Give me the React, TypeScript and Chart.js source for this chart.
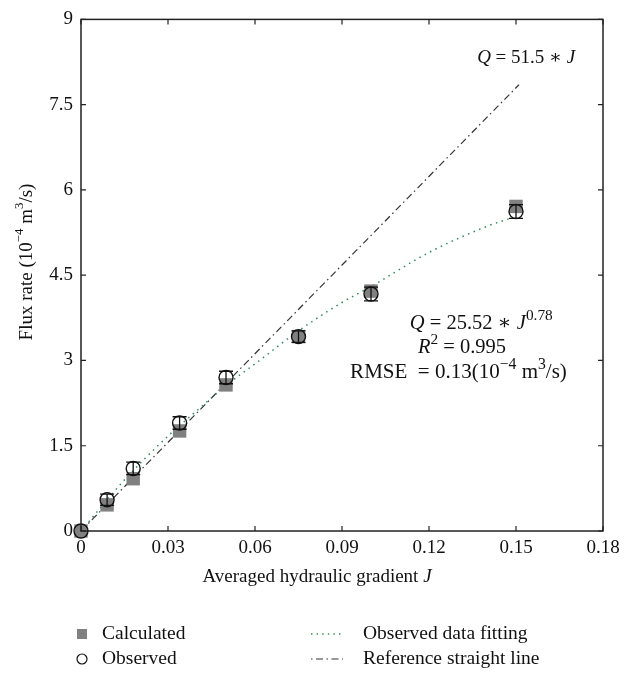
import { useEffect, useRef } from 'react';
import { Chart, registerables } from 'chart.js';
Chart.register(...registerables);

const J_VALUES = [0, 0.009, 0.018, 0.034, 0.05, 0.075, 0.1, 0.15];
const CALCULATED = [0, 0.46, 0.92, 1.76, 2.57, 3.42, 4.22, 5.71];
const OBSERVED = [0, 0.55, 1.1, 1.9, 2.7, 3.42, 4.17, 5.62];
const OBS_ERROR = [0, 0.1, 0.11, 0.11, 0.11, 0.1, 0.12, 0.12];
const FIT_J = [0, 0.015, 0.03, 0.04, 0.05, 0.06, 0.075, 0.09, 0.1, 0.12, 0.14, 0.148];
const FIT_Q = [0, 0.9, 1.67, 2.12, 2.56, 2.94, 3.52, 4.02, 4.3, 4.9, 5.36, 5.5];
const REF_J = [0, 0.151];
const REF_Q = [0, 7.85];
const X_MIN = 0, X_MAX = 0.18, X_STEP = 0.03;
const Y_MIN = 0, Y_MAX = 9, Y_STEP = 1.5;

const FAMILY = "'Liberation Serif', 'DejaVu Serif', serif";
type Seg = { t: string; i?: boolean; sup?: boolean };

function font(size: number, italic?: boolean) {
  return `${italic ? 'italic ' : ''}${size}px ${FAMILY}`;
}

function drawRich(ctx: CanvasRenderingContext2D, segs: Seg[], x: number, y: number, size: number, align: 'left' | 'center', supScale = 0.68) {
  let w = 0;
  for (const s of segs) {
    ctx.font = font(s.sup ? size * supScale : size, s.i);
    w += ctx.measureText(s.t).width;
  }
  let cx = align === 'center' ? x - w / 2 : x;
  ctx.textBaseline = 'middle';
  ctx.textAlign = 'left';
  for (const s of segs) {
    ctx.font = font(s.sup ? size * supScale : size, s.i);
    ctx.fillText(s.t, cx, s.sup ? y - size * 0.38 : y);
    cx += ctx.measureText(s.t).width;
  }
}

const decorPlugin = {
  id: 'decor',
  afterDatasetsDraw(chart: any) {
    const ctx: CanvasRenderingContext2D = chart.ctx;
    const xs = chart.scales.x, ys = chart.scales.y;
    const a = chart.chartArea;
    ctx.save();
    // error bars
    ctx.strokeStyle = '#111';
    ctx.lineWidth = 1.3;
    for (let k = 0; k < J_VALUES.length; k++) {
      if (!OBS_ERROR[k]) continue;
      const px = xs.getPixelForValue(J_VALUES[k]);
      const top = ys.getPixelForValue(OBSERVED[k] + OBS_ERROR[k]);
      const bot = ys.getPixelForValue(OBSERVED[k] - OBS_ERROR[k]);
      ctx.beginPath();
      ctx.moveTo(px, top); ctx.lineTo(px, bot);
      ctx.moveTo(px - 7, top); ctx.lineTo(px + 7, top);
      ctx.moveTo(px - 7, bot); ctx.lineTo(px + 7, bot);
      ctx.stroke();
    }
    // frame
    ctx.strokeStyle = '#222';
    ctx.lineWidth = 1.5;
    ctx.strokeRect(a.left, a.top, a.right - a.left, a.bottom - a.top);
    // inward ticks
    ctx.lineWidth = 1.2;
    ctx.beginPath();
    for (const t of xs.ticks) {
      const px = xs.getPixelForValue(t.value);
      ctx.moveTo(px, a.bottom); ctx.lineTo(px, a.bottom - 5);
      ctx.moveTo(px, a.top); ctx.lineTo(px, a.top + 5);
    }
    for (const t of ys.ticks) {
      const py = ys.getPixelForValue(t.value);
      ctx.moveTo(a.left, py); ctx.lineTo(a.left + 5, py);
      ctx.moveTo(a.right, py); ctx.lineTo(a.right - 5, py);
    }
    ctx.stroke();
    ctx.restore();
  },
  afterDraw(chart: any) {
    const ctx: CanvasRenderingContext2D = chart.ctx;
    const xs = chart.scales.x, ys = chart.scales.y;
    ctx.save();
    ctx.fillStyle = '#111';
    // annotations
    drawRich(ctx, [{ t: 'Q', i: true }, { t: ' = 51.5 ∗ ' }, { t: 'J', i: true }],
      xs.getPixelForValue(0.1366), ys.getPixelForValue(8.32), 19, 'left');
    drawRich(ctx, [{ t: 'Q', i: true }, { t: ' = 25.52 ∗ ' }, { t: 'J', i: true }, { t: '0.78', sup: true }],
      xs.getPixelForValue(0.1134), ys.getPixelForValue(3.65), 20.5, 'left', 0.75);
    drawRich(ctx, [{ t: 'R', i: true }, { t: '2', sup: true }, { t: ' = 0.995' }],
      xs.getPixelForValue(0.1162), ys.getPixelForValue(3.22), 20.5, 'left', 0.75);
    drawRich(ctx, [{ t: 'RMSE  = 0.13(10' }, { t: '−4', sup: true }, { t: ' m' }, { t: '3', sup: true }, { t: '/s)' }],
      xs.getPixelForValue(0.0928), ys.getPixelForValue(2.79), 21, 'left', 0.75);
    // axis titles
    drawRich(ctx, [{ t: 'Averaged hydraulic gradient ' }, { t: 'J', i: true }], 317, 577, 19, 'center');
    ctx.save();
    ctx.translate(27, 262);
    ctx.rotate(-Math.PI / 2);
    drawRich(ctx, [{ t: 'Flux rate (10' }, { t: '−4', sup: true }, { t: ' m' }, { t: '3', sup: true }, { t: '/s)' }], 0, 0, 19, 'center');
    ctx.restore();
    // legend
    const r1 = 634, r2 = 659;
    ctx.fillStyle = '#808080';
    ctx.fillRect(77, r1 - 5, 10, 10);
    ctx.strokeStyle = '#111';
    ctx.lineWidth = 1.2;
    ctx.beginPath();
    ctx.arc(82, r2, 5, 0, Math.PI * 2);
    ctx.stroke();
    ctx.fillStyle = '#111';
    drawRich(ctx, [{ t: 'Calculated' }], 102, r1, 19.5, 'left');
    drawRich(ctx, [{ t: 'Observed' }], 102, r2, 19.5, 'left');
    ctx.strokeStyle = '#2e8b57';
    ctx.lineWidth = 1.4;
    ctx.setLineDash([1.4, 4.2]);
    ctx.beginPath(); ctx.moveTo(311, r1); ctx.lineTo(343, r1); ctx.stroke();
    ctx.strokeStyle = '#333';
    ctx.lineWidth = 1.2;
    ctx.setLineDash([1.5, 3.5, 7, 3.5]);
    ctx.beginPath(); ctx.moveTo(311, r2); ctx.lineTo(343, r2); ctx.stroke();
    ctx.setLineDash([]);
    drawRich(ctx, [{ t: 'Observed data fitting' }], 363, r1, 19.5, 'left');
    drawRich(ctx, [{ t: 'Reference straight line' }], 363, r2, 19.5, 'left');
    ctx.restore();
  },
};

export default function App() {
  const ref = useRef<HTMLCanvasElement>(null);
  useEffect(() => {
    if (!ref.current) return;
    const chart = new Chart(ref.current, {
      type: 'scatter',
      data: {
        datasets: [
          {
            label: 'Observed',
            data: J_VALUES.map((x, k) => ({ x, y: OBSERVED[k] })),
            pointStyle: 'circle',
            pointRadius: 7,
            borderColor: '#111',
            borderWidth: 1.4,
            backgroundColor: 'rgba(0,0,0,0)',
            clip: false,
          },
          {
            label: 'Calculated',
            data: J_VALUES.map((x, k) => ({ x, y: CALCULATED[k] })),
            pointStyle: 'rect',
            pointRadius: 9.5,
            borderWidth: 0,
            backgroundColor: '#808080',
            clip: false,
          },
          {
            type: 'line',
            label: 'Observed data fitting',
            data: FIT_J.map((x, k) => ({ x, y: FIT_Q[k] })),
            borderColor: '#2e8b57',
            borderWidth: 1.5,
            borderDash: [1.5, 4.5],
            pointRadius: 0,
            cubicInterpolationMode: 'monotone',
            fill: false,
          } as any,
          {
            type: 'line',
            label: 'Reference straight line',
            data: REF_J.map((x, k) => ({ x, y: REF_Q[k] })),
            borderColor: '#333',
            borderWidth: 1.2,
            borderDash: [7, 3.5, 1.5, 3.5],
            pointRadius: 0,
            fill: false,
          } as any,
        ],
      },
      options: {
        animation: false,
        responsive: false,
        events: [],
        layout: { padding: { left: 8, top: 11, right: 30, bottom: 106 } },
        plugins: { legend: { display: false }, tooltip: { enabled: false } },
        scales: {
          x: {
            type: 'linear', min: X_MIN, max: X_MAX,
            grid: { display: false, drawTicks: false },
            border: { display: false },
            afterFit: (s: any) => { s.height = 40; },
            ticks: {
              stepSize: X_STEP, padding: 6, color: '#111', maxRotation: 0,
              font: { family: FAMILY, size: 19 },
              callback: (v: any) => String(Number(Number(v).toFixed(2))),
            },
          },
          y: {
            type: 'linear', min: Y_MIN, max: Y_MAX,
            grid: { display: false, drawTicks: false },
            border: { display: false },
            afterFit: (s: any) => { s.width = 73; },
            ticks: {
              stepSize: Y_STEP, padding: 8, color: '#111',
              font: { family: FAMILY, size: 19 },
              callback: (v: any) => String(Number(Number(v).toFixed(2))),
            },
          },
        },
      } as any,
      plugins: [decorPlugin],
    });
    return () => chart.destroy();
  }, []);
  return (
    <div style={{ position: 'absolute', left: 0, top: 0, width: 633, height: 677, background: '#fff' }}>
      <canvas ref={ref} width={633} height={677} style={{ display: 'block' }} />
    </div>
  );
}
